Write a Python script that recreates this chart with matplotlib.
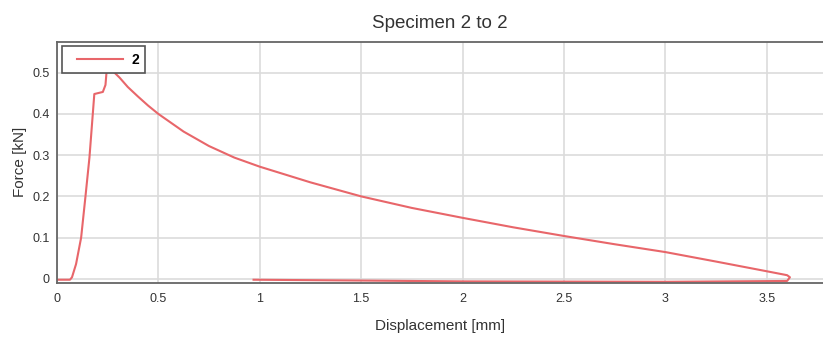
import matplotlib.pyplot as plt
from matplotlib.ticker import FuncFormatter
from matplotlib.legend_handler import HandlerLine2D

plt.rcParams['font.family'] = ['Liberation Sans', 'DejaVu Sans']

# loading branch, peak, softening branch, then unloading back along zero
displacement = [0.0, 0.065, 0.075, 0.095, 0.12, 0.141, 0.161, 0.185, 0.227,
                0.24, 0.245, 0.262, 0.284, 0.309, 0.35, 0.4, 0.45, 0.5,
                0.625, 0.75, 0.875, 1.0, 1.25, 1.5, 1.75, 2.0, 2.25, 2.5,
                2.75, 3.0, 3.25, 3.5, 3.6, 3.614, 3.6, 3.0, 2.0, 1.5, 0.97]
force = [-0.002, -0.002, 0.004, 0.036, 0.10, 0.198, 0.294, 0.448, 0.453,
         0.47, 0.50, 0.528, 0.50, 0.488, 0.465, 0.442, 0.42, 0.40, 0.357,
         0.322, 0.294, 0.272, 0.234, 0.20, 0.172, 0.148, 0.125, 0.104,
         0.084, 0.065, 0.042, 0.0185, 0.009, 0.004, -0.005, -0.007, -0.006,
         -0.004, -0.002]

fig = plt.figure(figsize=(8.23, 3.41), dpi=100)
ax = fig.add_axes([0.069, 0.170, 0.931, 0.708])

line, = ax.plot(displacement, force, color="#e8666a", lw=1.5, label="2")

ax.set_xlim(0, 3.777)
ax.set_ylim(-0.01, 0.575)
ax.set_xticks([0, 0.5, 1, 1.5, 2, 2.5, 3, 3.5])
ax.set_yticks([0, 0.1, 0.2, 0.3, 0.4, 0.5])
fmt = FuncFormatter(lambda v, p: ("%g" % v))
ax.xaxis.set_major_formatter(fmt)
ax.yaxis.set_major_formatter(fmt)
ax.tick_params(length=0, labelsize=9, colors="#333333")
ax.tick_params(axis="x", pad=7)
ax.tick_params(axis="y", pad=5)
ax.grid(True, color="#dcdcdc", lw=1.2)
ax.set_axisbelow(True)

ax.spines["right"].set_visible(False)
for s in ["left", "bottom", "top"]:
    ax.spines[s].set_color("#666666")
    ax.spines[s].set_linewidth(1.3)

ax.set_title("Specimen 2 to 2", fontsize=13.5, color="#333333", pad=10)
ax.set_xlabel("Displacement [mm]", fontsize=11, color="#333333", labelpad=10)
ax.set_ylabel("Force [kN]", fontsize=11, color="#333333", labelpad=4)

leg = ax.legend(loc="upper left", fancybox=False, framealpha=1,
                borderaxespad=0.35, handlelength=4.0, borderpad=0.45,
                handletextpad=0.58, prop={"weight": "bold", "size": 10},
                handler_map={line: HandlerLine2D(xpad=0.63)})
leg.get_frame().set_edgecolor("#555555")
leg.get_frame().set_linewidth(1.2)

plt.savefig("out.png", dpi=100)
